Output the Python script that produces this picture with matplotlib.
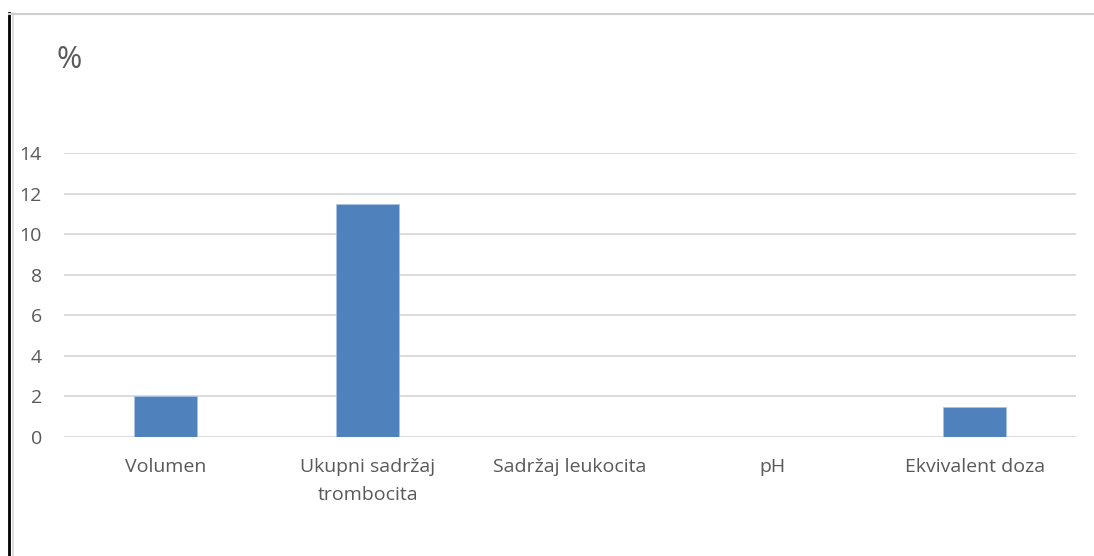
import numpy as np
from matplotlib import pyplot as plt
from matplotlib.lines import Line2D

###################DATA###################
categories = ["Volumen", "Ukupni sadržaj\ntrombocita", "Sadržaj leukocita", "pH", "Ekvivalent doza"]
values = [2, 11.5, 0, 0, 1.5]
yticks = [0, 2, 4, 6, 8, 10, 12, 14]

W, H = 1094, 556
plt.rcParams['font.family'] = ['Open Sans', 'DejaVu Sans']
textColor = "#595959"
gridColor = "#D9D9D9"

fig = plt.figure(figsize=(W/100, H/100), dpi=100)
ax = fig.add_axes([64/W, 1-437/H, (1076-64)/W, (437-153)/H])

x = np.arange(len(categories))
ax.bar(x, values, width=0.31, color="#4F81BD", edgecolor="#A9C2E3", linewidth=0.6, zorder=3)

ax.set_xlim(-0.5, len(categories)-0.5)
ax.set_ylim(0, 14)
ax.set_yticks(yticks)
ax.set_xticks(x)
ax.set_xticklabels(categories, fontsize=14, color=textColor, linespacing=1.75)
ax.tick_params(axis='y', labelsize=14, labelcolor=textColor, length=0, pad=16)
ax.tick_params(axis='x', length=0, pad=15)
ax.grid(axis='y', color=gridColor, linewidth=1.3, zorder=0)
for s in ax.spines.values():
    s.set_visible(False)

fig.text(57/W, 1-60/H, "%", fontsize=22, color=textColor, va='center', ha='left')

# outer frame
fig.add_artist(Line2D([9/W, 9/W], [0, 1-13/H], color="black", linewidth=2))
fig.add_artist(Line2D([13/W, 13/W], [0, 1-13/H], color="#D9D9D9", linewidth=1.2))
fig.add_artist(Line2D([9/W, 1], [1-13.5/H, 1-13.5/H], color="#D0D0D0", linewidth=1.5))

plt.savefig("out.png", dpi=100)
